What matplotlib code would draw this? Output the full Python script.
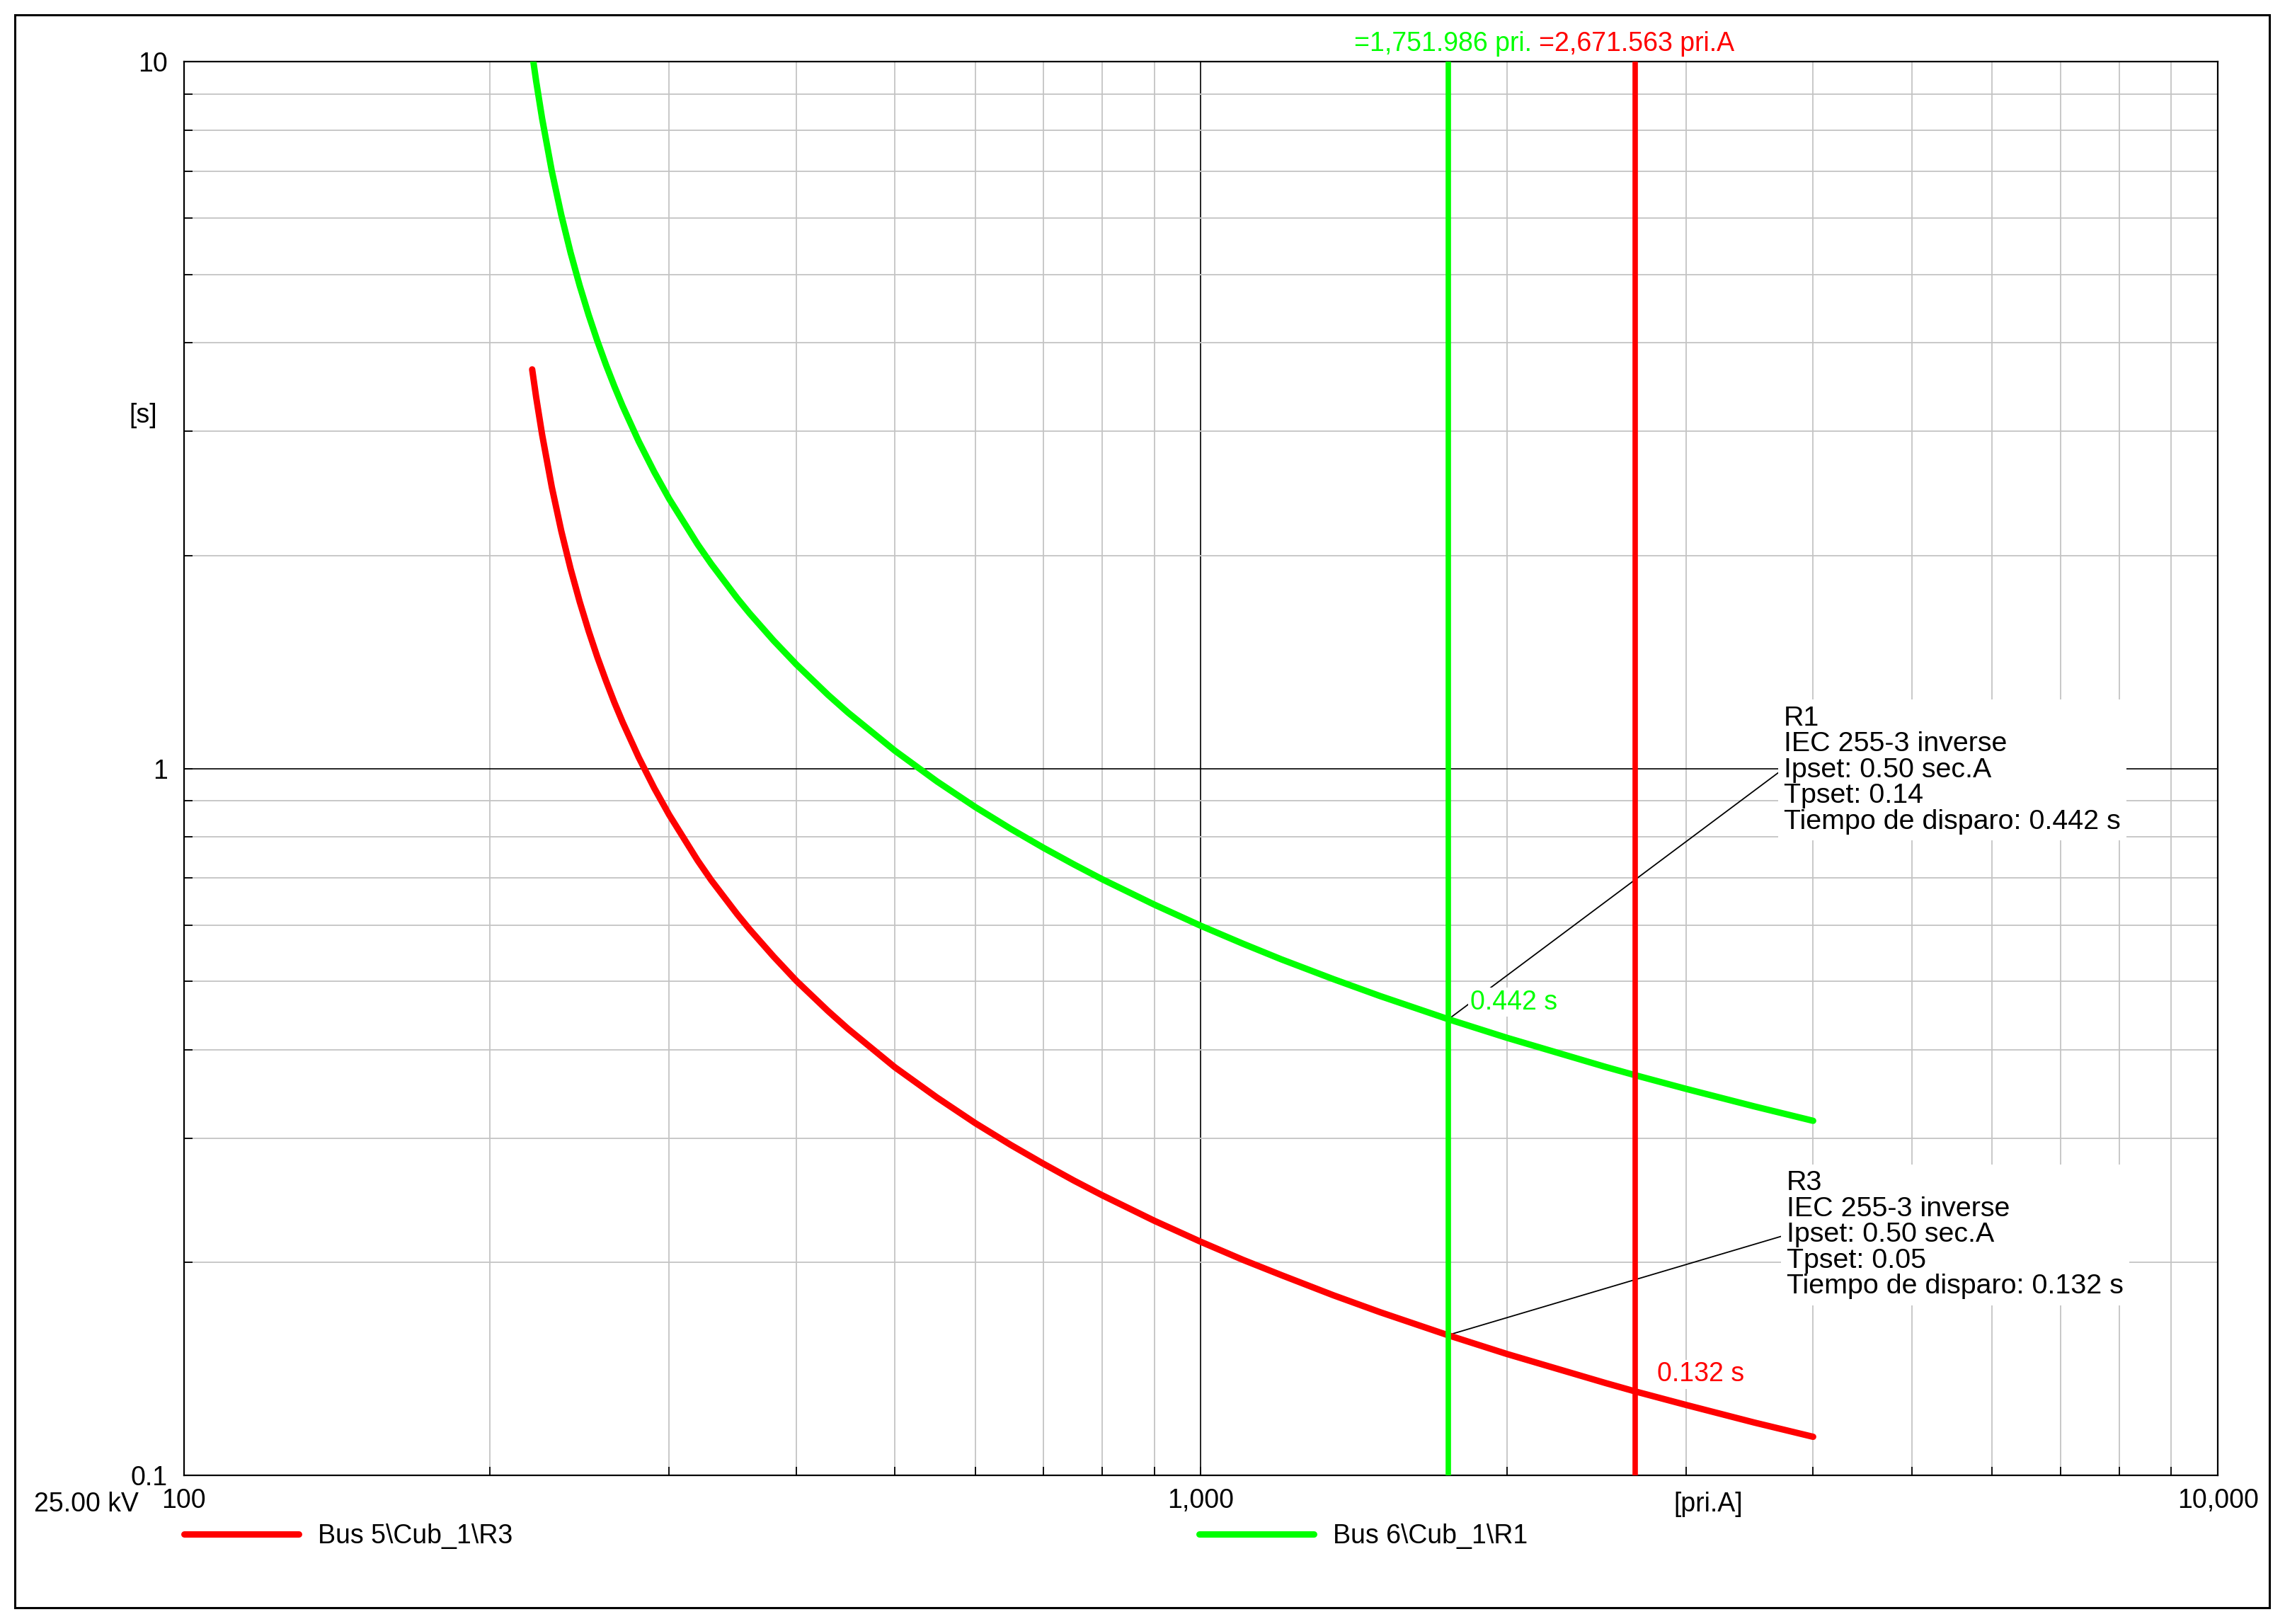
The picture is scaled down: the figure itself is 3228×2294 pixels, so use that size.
from matplotlib import pyplot as plt
from matplotlib.lines import Line2D
from matplotlib.patches import Rectangle
from matplotlib.ticker import FixedLocator, FuncFormatter, NullFormatter

plt.rcParams['font.family'] = ['Liberation Sans', 'DejaVu Sans']

RED = '#ff0000'
GREEN = '#00ff00'

# primary current [A] and trip times [s]
CURRENT = [220, 222, 225, 230, 235, 240, 245, 250, 255, 260, 265, 270, 280,
           290, 300, 320, 330, 350, 360, 380, 400, 430, 450, 500, 550, 600,
           650, 700, 750, 800, 900, 1000, 1100, 1200, 1350, 1500, 1752, 2000,
           2500, 2672, 3000, 3500, 4000]
R1_TIME = [10.27, 9.38, 8.31, 7.00, 6.067, 5.365, 4.819, 4.382, 4.024, 3.725,
           3.473, 3.256, 2.903, 2.628, 2.407, 2.075, 1.947, 1.741, 1.657,
           1.517, 1.404, 1.2705, 1.199, 1.060, 0.959, 0.882, 0.8217, 0.7725,
           0.7317, 0.697, 0.6418, 0.599, 0.5651, 0.537, 0.5035, 0.4766,
           0.4418, 0.4159, 0.3783, 0.3683, 0.3522, 0.3327, 0.3174]
R3_TIME = [3.669, 3.350, 2.968, 2.501, 2.167, 1.916, 1.721, 1.565, 1.437,
           1.331, 1.240, 1.163, 1.037, 0.9385, 0.860, 0.741, 0.695, 0.622,
           0.592, 0.542, 0.501, 0.4537, 0.428, 0.378, 0.3425, 0.315, 0.2935,
           0.276, 0.2613, 0.249, 0.2292, 0.214, 0.2018, 0.192, 0.1798, 0.1702,
           0.1578, 0.1485, 0.1351, 0.1315, 0.1258, 0.1188, 0.1134]

# fault currents (vertical markers) and trip times shown on the chart
FAULT_R1 = 1751.986
FAULT_R3 = 2671.563
TRIP_R1 = 0.442
TRIP_R3 = 0.132
TRIP_R3_AT_R1 = 0.158

X_TICKS = [100, 1000, 10000]
Y_TICKS = [0.1, 1, 10]

R1_INFO = "R1\nIEC 255-3 inverse\nIpset: 0.50 sec.A\nTpset: 0.14\nTiempo de disparo: 0.442 s"
R3_INFO = "R3\nIEC 255-3 inverse\nIpset: 0.50 sec.A\nTpset: 0.05\nTiempo de disparo: 0.132 s"

FS = 27
BOX_FS = 28.4

fig = plt.figure(figsize=(32.28, 22.94), dpi=100)
ax = fig.add_axes([0.0805, 0.0915, 0.8901, 0.8706])
ax.set_xscale('log')
ax.set_yscale('log')
ax.set_xlim(100, 10000)
ax.set_ylim(0.1, 10)

ax.grid(True, which='minor', color='#c4c4c4', lw=1.3, zorder=0)
ax.grid(True, which='major', color='black', lw=1.2, zorder=0)
ax.set_axisbelow(True)

ax.xaxis.set_major_locator(FixedLocator(X_TICKS))
ax.xaxis.set_major_formatter(FuncFormatter(lambda v, p: '{:,.0f}'.format(v)))
ax.xaxis.set_minor_formatter(NullFormatter())
ax.yaxis.set_major_locator(FixedLocator(Y_TICKS))
ax.yaxis.set_major_formatter(FuncFormatter(lambda v, p: '{:g}'.format(v)))
ax.yaxis.set_minor_formatter(NullFormatter())
ax.tick_params(axis='both', which='both', direction='in', length=8.5,
               width=1.3, color='black', labelsize=FS)
ax.tick_params(axis='x', which='major', pad=13)
ax.tick_params(axis='y', which='major', pad=16.5)
for s in ax.spines.values():
    s.set_linewidth(1.6)

# relay curves
ax.plot(CURRENT, R3_TIME, color=RED, lw=6.5, solid_capstyle='round',
        solid_joinstyle='round', zorder=4)
ax.plot(CURRENT, R1_TIME, color=GREEN, lw=6.5, solid_capstyle='round',
        solid_joinstyle='round', zorder=4)

# fault current markers
ax.axvline(FAULT_R1, color=GREEN, lw=5.5, zorder=5)
ax.axvline(FAULT_R3, color=RED, lw=5.5, zorder=5)
ax.annotate('=1,751.986 pri.', xy=(FAULT_R1, 1.0125),
            xycoords=ax.get_xaxis_transform(), xytext=(-6, 0),
            textcoords='offset points', color=GREEN, fontsize=FS,
            ha='center', va='center')
ax.annotate('=2,671.563 pri.A', xy=(FAULT_R3, 1.0125),
            xycoords=ax.get_xaxis_transform(), xytext=(1.5, 0),
            textcoords='offset points', color=RED, fontsize=FS,
            ha='center', va='center')

# trip time labels
ax.text(1840, 0.467, '%.3f s' % TRIP_R1, color=GREEN, fontsize=FS,
        ha='left', va='center', zorder=3,
        bbox=dict(facecolor='white', edgecolor='none', pad=2))
ax.text(2810, 0.139, '%.3f s' % TRIP_R3, color=RED, fontsize=FS,
        ha='left', va='center', zorder=3,
        bbox=dict(facecolor='white', edgecolor='none', pad=2))

# relay info boxes with leader lines
ax.annotate('', xy=(FAULT_R1, TRIP_R1), xytext=(3744, 1.0),
            arrowprops=dict(arrowstyle='-', color='black', lw=1.3,
                            shrinkA=0, shrinkB=0), zorder=2)
ax.annotate('', xy=(FAULT_R1, TRIP_R3_AT_R1), xytext=(3767, 0.219),
            arrowprops=dict(arrowstyle='-', color='black', lw=1.3,
                            shrinkA=0, shrinkB=0), zorder=2)
ax.text(3744, 0.995, R1_INFO, fontsize=BOX_FS, linespacing=1.02,
        ha='left', va='center', zorder=3,
        bbox=dict(facecolor='white', edgecolor='none', pad=6))
ax.text(3767, 0.219, R3_INFO, fontsize=BOX_FS, linespacing=1.02,
        ha='left', va='center', zorder=3,
        bbox=dict(facecolor='white', edgecolor='none', pad=6))

# axis captions
ax.text(-0.0202, 0.7496, '[s]', fontsize=FS, ha='center', va='center',
        transform=ax.transAxes)
ax.text(0.7494, -0.0205, '[pri.A]', fontsize=FS, ha='center', va='center',
        transform=ax.transAxes)
ax.text(-0.0223, -0.0205, '25.00 kV', fontsize=FS, ha='right', va='center',
        transform=ax.transAxes)

# legend, two entries spread along the bottom
leg_y = 1 - 2170 / 2294
hl = 162 / (FS * 100 / 72)
tp = 27 / (FS * 100 / 72)
leg1 = ax.legend(handles=[Line2D([], [], color=RED, lw=6.5,
                                 solid_capstyle='round')],
                 labels=['Bus 5\\Cub_1\\R3'], loc='center left',
                 bbox_to_anchor=(260 / 3228, leg_y),
                 bbox_transform=fig.transFigure, frameon=False,
                 fontsize=FS, handlelength=hl, handletextpad=tp,
                 borderpad=0, borderaxespad=0)
ax.add_artist(leg1)
ax.legend(handles=[Line2D([], [], color=GREEN, lw=6.5,
                          solid_capstyle='round')],
          labels=['Bus 6\\Cub_1\\R1'], loc='center left',
          bbox_to_anchor=(1694 / 3228, leg_y),
          bbox_transform=fig.transFigure, frameon=False,
          fontsize=FS, handlelength=hl, handletextpad=tp,
          borderpad=0, borderaxespad=0)

# outer frame
fig.add_artist(Rectangle((21 / 3228, 1 - 2271 / 2294), 3185 / 3228,
                         2250 / 2294, transform=fig.transFigure,
                         fill=False, edgecolor='black', lw=2.2))

fig.savefig('out.png', dpi=100)
